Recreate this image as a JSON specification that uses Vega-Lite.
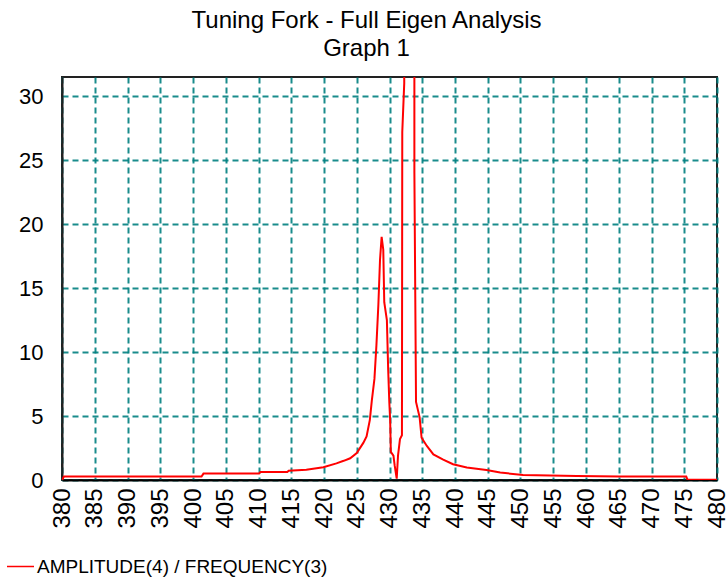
{
  "$schema": "https://vega.github.io/schema/vega-lite/v6.json",
  "autosize": "none",
  "width": 655,
  "height": 403,
  "padding": {"left": 62, "top": 77, "right": 11, "bottom": 103},
  "background": "white",
  "config": {
    "font": "Liberation Sans",
    "view": {"stroke": "#222222", "strokeWidth": 2},
    "axis": {"labelFont": "Liberation Sans", "labelColor": "#000000"}
  },
  "title": {
    "text": ["Tuning Fork - Full Eigen Analysis", "Graph 1"],
    "fontSize": 24,
    "fontWeight": "normal",
    "font": "Liberation Sans",
    "color": "#000000",
    "lineHeight": 28,
    "anchor": "middle",
    "dx": -23,
    "offset": 16
  },
  "data": {
    "values": [
      {"freq": 380.0, "amp": 0.0},
      {"freq": 380.3, "amp": 0.27},
      {"freq": 401.3, "amp": 0.27},
      {"freq": 401.6, "amp": 0.5},
      {"freq": 410.1, "amp": 0.5},
      {"freq": 410.3, "amp": 0.63},
      {"freq": 414.4, "amp": 0.63},
      {"freq": 414.6, "amp": 0.72},
      {"freq": 417.3, "amp": 0.8},
      {"freq": 419.9, "amp": 1.0},
      {"freq": 421.9, "amp": 1.3},
      {"freq": 423.0, "amp": 1.5},
      {"freq": 424.0, "amp": 1.7},
      {"freq": 425.0, "amp": 2.1},
      {"freq": 426.0, "amp": 2.9},
      {"freq": 426.5, "amp": 3.4},
      {"freq": 427.0, "amp": 4.7},
      {"freq": 427.3, "amp": 6.2},
      {"freq": 427.7, "amp": 7.9},
      {"freq": 428.0, "amp": 10.5},
      {"freq": 428.3, "amp": 13.7},
      {"freq": 428.55, "amp": 17.2},
      {"freq": 428.8, "amp": 19.0},
      {"freq": 429.05, "amp": 18.0},
      {"freq": 429.2, "amp": 13.9},
      {"freq": 429.6, "amp": 12.5},
      {"freq": 429.8, "amp": 8.6},
      {"freq": 429.97, "amp": 6.1},
      {"freq": 430.1, "amp": 4.7},
      {"freq": 430.2, "amp": 2.2},
      {"freq": 430.6, "amp": 1.9},
      {"freq": 430.8, "amp": 1.1},
      {"freq": 431.1, "amp": 0.1},
      {"freq": 431.3, "amp": 1.9},
      {"freq": 431.6, "amp": 3.2},
      {"freq": 431.9, "amp": 3.5},
      {"freq": 431.95, "amp": 27.2},
      {"freq": 432.25, "amp": 31.0},
      {"freq": 432.3, "amp": 200},
      {"freq": 433.75, "amp": 200},
      {"freq": 433.8, "amp": 24.0},
      {"freq": 434.05, "amp": 6.1},
      {"freq": 434.6, "amp": 4.9},
      {"freq": 434.9, "amp": 3.3},
      {"freq": 435.7, "amp": 2.66},
      {"freq": 436.7, "amp": 2.0},
      {"freq": 438.2, "amp": 1.6},
      {"freq": 439.7, "amp": 1.23},
      {"freq": 441.8, "amp": 0.97},
      {"freq": 444.8, "amp": 0.78},
      {"freq": 446.9, "amp": 0.58},
      {"freq": 450.4, "amp": 0.39},
      {"freq": 458.6, "amp": 0.31},
      {"freq": 465.2, "amp": 0.27},
      {"freq": 475.3, "amp": 0.27},
      {"freq": 475.5, "amp": 0.02},
      {"freq": 480.0, "amp": 0.02}
    ]
  },
  "mark": {"type": "line", "strokeWidth": 2, "clip": true, "interpolate": "linear"},
  "encoding": {
    "x": {
      "field": "freq",
      "type": "quantitative",
      "scale": {"domain": [380, 480], "nice": false, "zero": false},
      "axis": {
        "title": null,
        "values": [380,385,390,395,400,405,410,415,420,425,430,435,440,445,450,455,460,465,470,475,480],
        "labelAngle": 270,
        "labelAlign": "right",
        "labelBaseline": "middle",
        "labelFontSize": 24,
        "labelPadding": 8,
        "ticks": false,
        "domain": true,
        "domainColor": "#000000",
        "domainWidth": 2,
        "grid": true,
        "gridColor": "#008080",
        "gridDash": [6, 4],
        "gridWidth": 2,
        "gridOpacity": 0.9,
        "labelFlush": false,
        "labelOverlap": false
      }
    },
    "y": {
      "field": "amp",
      "type": "quantitative",
      "scale": {"domain": [0, 31.5], "nice": false, "zero": true},
      "axis": {
        "title": null,
        "values": [0, 5, 10, 15, 20, 25, 30],
        "labelFontSize": 22,
        "labelPadding": 19,
        "ticks": false,
        "domain": true,
        "domainColor": "#222222",
        "domainWidth": 2,
        "grid": true,
        "gridColor": "#008080",
        "gridDash": [6, 4],
        "gridWidth": 2,
        "gridOpacity": 0.9,
        "labelFlush": false
      }
    },
    "color": {
      "datum": "AMPLITUDE(4) / FREQUENCY(3)",
      "scale": {"range": ["#ff0000"]},
      "legend": {
        "title": null,
        "orient": "none",
        "legendX": -56,
        "legendY": 475,
        "symbolType": "stroke",
        "symbolSize": 729,
        "symbolStrokeWidth": 1.5,
        "labelFontSize": 19,
        "labelFont": "Liberation Sans",
        "labelColor": "#000000",
        "labelOffset": 2,
        "labelLimit": 400
      }
    }
  }
}
